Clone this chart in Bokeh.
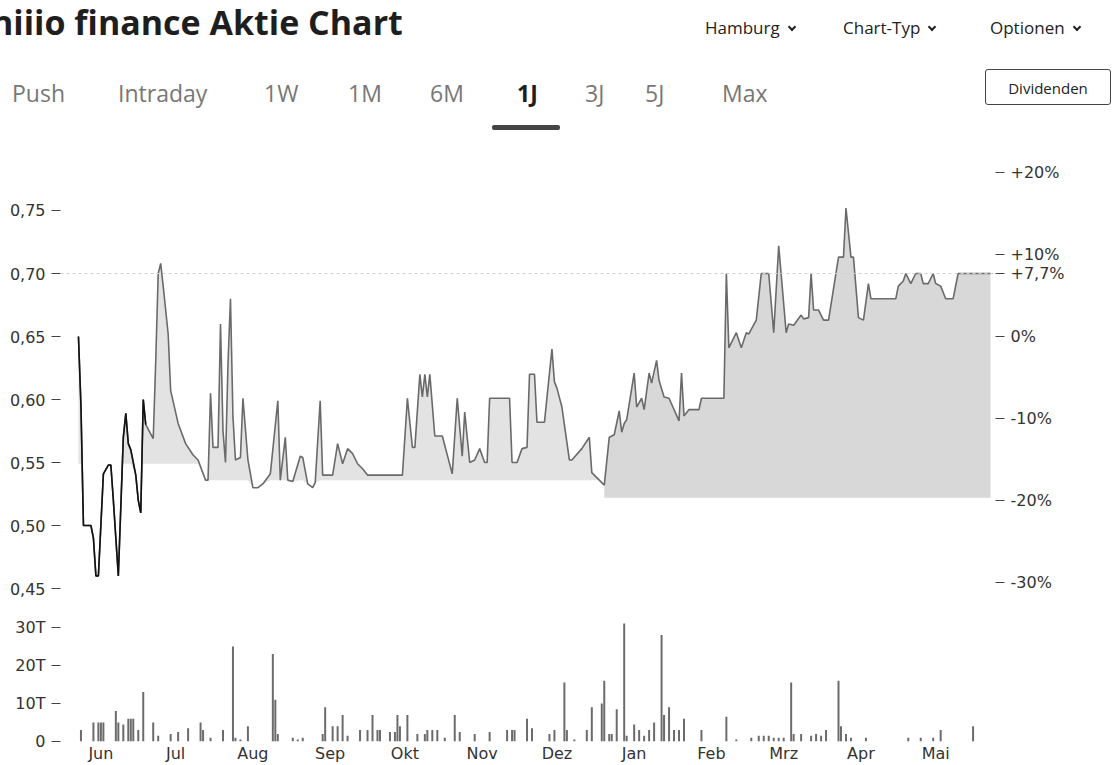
import numpy as np
import pandas as pd
from bokeh.plotting import figure
from bokeh.models import (Range1d, LinearAxis, FixedTicker, CustomJSTickFormatter,
                          MonthsTicker, Span, Div)
from bokeh.layouts import column
from bokeh.embed import file_html
from bokeh.resources import INLINE

TITLE = "niiio finance Aktie Chart"
TABS = ["Push", "Intraday", "1W", "1M", "6M", "1J", "3J", "5J", "Max"]
ACTIVE_TAB = "1J"
MENUS = ["Hamburg", "Chart-Typ", "Optionen"]
BUTTON = "Dividenden"

PRICE_DATES = [
    "2023-05-23", "2023-05-24", "2023-05-25", "2023-05-28", "2023-05-29", "2023-05-30",
    "2023-05-31", "2023-06-02", "2023-06-04", "2023-06-05", "2023-06-06", "2023-06-08",
    "2023-06-10", "2023-06-11", "2023-06-12", "2023-06-13", "2023-06-15", "2023-06-16",
    "2023-06-17", "2023-06-18", "2023-06-19", "2023-06-22", "2023-06-23", "2023-06-24",
    "2023-06-25", "2023-06-26", "2023-06-28", "2023-06-29", "2023-07-02", "2023-07-05",
    "2023-07-08", "2023-07-10", "2023-07-13", "2023-07-14", "2023-07-15", "2023-07-16",
    "2023-07-18", "2023-07-19", "2023-07-20", "2023-07-21", "2023-07-22", "2023-07-23",
    "2023-07-24", "2023-07-25", "2023-07-27", "2023-07-28", "2023-07-30", "2023-08-01",
    "2023-08-03", "2023-08-05", "2023-08-08", "2023-08-11", "2023-08-12", "2023-08-14",
    "2023-08-15", "2023-08-17", "2023-08-20", "2023-08-21", "2023-08-23", "2023-08-25",
    "2023-08-26", "2023-08-28", "2023-08-29", "2023-09-02", "2023-09-04", "2023-09-06",
    "2023-09-08", "2023-09-10", "2023-09-12", "2023-09-14", "2023-09-16", "2023-09-30",
    "2023-10-02", "2023-10-04", "2023-10-05", "2023-10-07", "2023-10-08", "2023-10-09",
    "2023-10-10", "2023-10-11", "2023-10-13", "2023-10-16", "2023-10-20", "2023-10-22",
    "2023-10-24", "2023-10-25", "2023-10-27", "2023-10-29", "2023-10-31", "2023-11-02",
    "2023-11-03", "2023-11-04", "2023-11-12", "2023-11-13", "2023-11-15", "2023-11-17",
    "2023-11-19", "2023-11-20", "2023-11-22", "2023-11-23", "2023-11-26", "2023-11-29",
    "2023-11-30", "2023-12-01", "2023-12-03", "2023-12-06", "2023-12-07", "2023-12-11",
    "2023-12-14", "2023-12-15", "2023-12-18", "2023-12-20", "2023-12-22", "2023-12-24",
    "2023-12-26", "2023-12-27", "2023-12-28", "2023-12-29", "2024-01-01", "2024-01-02",
    "2024-01-04", "2024-01-05", "2024-01-07", "2024-01-08", "2024-01-10", "2024-01-11",
    "2024-01-13", "2024-01-15", "2024-01-19", "2024-01-20", "2024-01-21", "2024-01-23",
    "2024-01-27", "2024-01-28", "2024-02-06", "2024-02-07", "2024-02-08", "2024-02-11",
    "2024-02-13", "2024-02-15", "2024-02-16", "2024-02-19", "2024-02-21", "2024-02-24",
    "2024-02-26", "2024-02-28", "2024-03-02", "2024-03-03", "2024-03-05", "2024-03-08",
    "2024-03-09", "2024-03-11", "2024-03-12", "2024-03-13", "2024-03-15", "2024-03-17",
    "2024-03-19", "2024-03-23", "2024-03-25", "2024-03-26", "2024-03-28", "2024-03-29",
    "2024-03-31", "2024-04-02", "2024-04-04", "2024-04-05", "2024-04-15", "2024-04-16",
    "2024-04-18", "2024-04-19", "2024-04-21", "2024-04-23", "2024-04-25", "2024-04-26",
    "2024-04-28", "2024-04-30", "2024-05-01", "2024-05-03", "2024-05-05", "2024-05-08",
    "2024-05-10", "2024-05-23",
]
PRICE_VALUES = [
    0.650, 0.595, 0.500, 0.500, 0.490, 0.460,
    0.460, 0.541, 0.548, 0.548, 0.520, 0.460,
    0.570, 0.589, 0.565, 0.560, 0.540, 0.520,
    0.510, 0.600, 0.580, 0.569, 0.630, 0.700,
    0.708, 0.690, 0.652, 0.607, 0.581, 0.565,
    0.556, 0.552, 0.536, 0.536, 0.605, 0.562,
    0.562, 0.660, 0.575, 0.550, 0.628, 0.680,
    0.586, 0.552, 0.554, 0.601, 0.552, 0.530,
    0.530, 0.533, 0.541, 0.599, 0.536, 0.570,
    0.536, 0.535, 0.555, 0.554, 0.533, 0.530,
    0.534, 0.599, 0.540, 0.540, 0.565, 0.549,
    0.561, 0.557, 0.549, 0.545, 0.540, 0.540,
    0.601, 0.562, 0.562, 0.620, 0.602, 0.620,
    0.602, 0.620, 0.571, 0.571, 0.541, 0.601,
    0.555, 0.590, 0.550, 0.552, 0.561, 0.550,
    0.550, 0.601, 0.601, 0.550, 0.550, 0.561,
    0.562, 0.620, 0.620, 0.582, 0.582, 0.640,
    0.614, 0.609, 0.594, 0.552, 0.552, 0.561,
    0.570, 0.542, 0.536, 0.532, 0.570, 0.572,
    0.591, 0.574, 0.581, 0.584, 0.621, 0.594,
    0.601, 0.592, 0.621, 0.613, 0.631, 0.615,
    0.602, 0.601, 0.583, 0.621, 0.587, 0.592,
    0.592, 0.601, 0.601, 0.700, 0.641, 0.653,
    0.641, 0.653, 0.652, 0.663, 0.700, 0.700,
    0.653, 0.722, 0.653, 0.660, 0.659, 0.667,
    0.664, 0.665, 0.700, 0.671, 0.671, 0.663,
    0.663, 0.713, 0.713, 0.752, 0.713, 0.713,
    0.665, 0.663, 0.692, 0.680, 0.680, 0.690,
    0.694, 0.700, 0.692, 0.700, 0.700, 0.692,
    0.692, 0.700, 0.692, 0.690, 0.680, 0.680,
    0.700, 0.700,
]

VOLUME_DATES = [
    "2023-05-24", "2023-05-29", "2023-05-31", "2023-06-01", "2023-06-02", "2023-06-07",
    "2023-06-08", "2023-06-10", "2023-06-12", "2023-06-13", "2023-06-14", "2023-06-16",
    "2023-06-18", "2023-06-22", "2023-06-24", "2023-06-29", "2023-07-02", "2023-07-06",
    "2023-07-11", "2023-07-12", "2023-07-15", "2023-07-20", "2023-07-24", "2023-07-25",
    "2023-07-27", "2023-07-30", "2023-08-09", "2023-08-10", "2023-08-11", "2023-08-17",
    "2023-08-19", "2023-08-21", "2023-08-29", "2023-08-30", "2023-09-02", "2023-09-04",
    "2023-09-06", "2023-09-08", "2023-09-13", "2023-09-16", "2023-09-18", "2023-09-20",
    "2023-09-21", "2023-09-25", "2023-09-27", "2023-09-28", "2023-09-29", "2023-10-02",
    "2023-10-06", "2023-10-09", "2023-10-10", "2023-10-12", "2023-10-14", "2023-10-17",
    "2023-10-21", "2023-10-23", "2023-10-29", "2023-11-04", "2023-11-11", "2023-11-13",
    "2023-11-14", "2023-11-19", "2023-11-21", "2023-11-28", "2023-11-30", "2023-12-04",
    "2023-12-05", "2023-12-08", "2023-12-13", "2023-12-15", "2023-12-19", "2023-12-20",
    "2023-12-22", "2023-12-23", "2023-12-25", "2023-12-28", "2023-12-29", "2024-01-01",
    "2024-01-03", "2024-01-05", "2024-01-07", "2024-01-09", "2024-01-12", "2024-01-13",
    "2024-01-15", "2024-01-17", "2024-01-19", "2024-01-21", "2024-01-28", "2024-02-07",
    "2024-02-11", "2024-02-17", "2024-02-20", "2024-02-22", "2024-02-24", "2024-02-26",
    "2024-02-28", "2024-03-01", "2024-03-04", "2024-03-05", "2024-03-08", "2024-03-12",
    "2024-03-14", "2024-03-16", "2024-03-18", "2024-03-23", "2024-03-24", "2024-03-26",
    "2024-03-28", "2024-04-03", "2024-04-20", "2024-04-25", "2024-04-30", "2024-05-03",
    "2024-05-16",
]
VOLUME_VALUES = [
    3000, 5000, 5000, 5000, 5000, 8000,
    5000, 4500, 6000, 6000, 6000, 3000,
    13000, 5000, 1500, 2000, 2500, 3500,
    5000, 3000, 1000, 3000, 25000, 1000,
    500, 4000, 23000, 11000, 2000, 1000,
    500, 1000, 2000, 9000, 4000, 4000,
    7000, 1500, 3000, 3000, 7000, 3000,
    3000, 2500, 2500, 7000, 4000, 7000,
    2000, 2000, 3000, 3000, 3000, 1000,
    7000, 2500, 2000, 2500, 3000, 3000,
    3000, 6000, 3500, 2000, 3000, 15500,
    3000, 500, 3000, 9000, 10000, 16000,
    2000, 2000, 8500, 31000, 1500, 4500,
    3000, 1500, 3000, 5000, 28000, 7000,
    9000, 3000, 3000, 6000, 3000, 6500,
    500, 1000, 1500, 1500, 1500, 1000,
    1000, 1000, 15500, 2000, 2000, 1500,
    2000, 1500, 3000, 16000, 4000, 2000,
    1000, 1000, 1000, 1000, 1000, 3000,
    4000,
]

PRICE_TICKS = [0.45, 0.50, 0.55, 0.60, 0.65, 0.70, 0.75]
PCT_TICKS = [-30, -20, -10, 0, 10, 20]
VOLUME_TICKS = [0, 10000, 20000, 30000]
MONTH_LABELS = ["Jan", "Feb", "Mrz", "Apr", "Mai", "Jun", "Jul", "Aug", "Sep", "Okt", "Nov", "Dez"]

# shading levels under the price line (segment start date, floor level)
FILL_SEGMENTS = [("2023-05-23", 0.549), ("2023-07-13", 0.536), ("2023-12-20", 0.522)]

FONT = "Open Sans"
AXIS_FONT = "DejaVu Sans"

pdates = pd.to_datetime(PRICE_DATES)
prices = np.array(PRICE_VALUES)
vdates = pd.to_datetime(VOLUME_DATES)
base_price = PRICE_VALUES[0]
last_pct = (PRICE_VALUES[-1] / base_price - 1) * 100

x_range = Range1d(pd.Timestamp("2023-05-15 19:00"), pd.Timestamp("2024-05-25 00:00"))
y_lo, y_hi = 0.44048, 0.79365

p = figure(width=1115, height=455, x_axis_type="datetime", x_range=x_range,
           y_range=Range1d(y_lo, y_hi), x_axis_location=None,
           toolbar_location=None, output_backend="svg",
           min_border_left=60, min_border_right=120, min_border_top=5, min_border_bottom=5,
           outline_line_color=None, background_fill_color="white", border_fill_color="white",
           margin=(0, 0, 0, 0))
p.grid.visible = False

seg_starts = [pd.Timestamp(s) for s, _ in FILL_SEGMENTS]
for i, (s, lvl) in enumerate(FILL_SEGMENTS):
    start = seg_starts[i]
    end = seg_starts[i + 1] if i + 1 < len(FILL_SEGMENTS) else pdates[-1]
    m = (pdates >= start) & (pdates <= end)
    xs = pdates[m]
    ys = prices[m]
    color = "#e3e3e3" if i < 2 else "#d8d8d8"
    p.varea(x=xs, y1=np.minimum(ys, lvl), y2=ys, fill_color=color, fill_alpha=1.0)

p.add_layout(Span(location=PRICE_VALUES[-1], dimension="width", line_color="#cfcfcf",
                  line_dash="3 3", line_width=1))

p.line(pdates, prices, line_color="#6a6a6a", line_width=1.6)
first = pdates <= pd.Timestamp("2023-06-19")
p.line(pdates[first], prices[first], line_color="#111111", line_width=1.6)

ya = p.yaxis[0]
ya.ticker = FixedTicker(ticks=PRICE_TICKS)
ya.formatter = CustomJSTickFormatter(code="return tick.toFixed(2).replace('.', ',');")

p.extra_y_ranges = {"pct": Range1d((y_lo / base_price - 1) * 100, (y_hi / base_price - 1) * 100)}
ra = LinearAxis(y_range_name="pct", ticker=FixedTicker(ticks=PCT_TICKS + [last_pct]),
                formatter=CustomJSTickFormatter(code="""
const v = Math.round(tick * 10) / 10;
let s = Math.abs(v - Math.round(v)) < 1e-6 ? String(Math.round(v)) : v.toFixed(1).replace('.', ',');
return (v > 0 ? '+' : '') + s + '%';
"""))
p.add_layout(ra, "right")

for ax in (ya, ra):
    ax.axis_line_color = None
    ax.major_tick_in = 0
    ax.major_tick_out = 9
    ax.major_tick_line_color = "#444444"
    ax.minor_tick_line_color = None
    ax.major_label_standoff = 6
    ax.major_label_text_font = AXIS_FONT
    ax.major_label_text_font_size = "16px"
    ax.major_label_text_color = "#333333"

v = figure(width=1115, height=160, x_axis_type="datetime", x_range=x_range,
           y_range=Range1d(0, 33130), toolbar_location=None, output_backend="svg",
           min_border_left=60, min_border_right=120, min_border_top=10, min_border_bottom=0,
           outline_line_color=None, background_fill_color="white", border_fill_color="white",
           margin=(0, 0, 0, 0))
v.grid.visible = False
v.vbar(x=vdates, top=VOLUME_VALUES, width=0.8 * 86400000, fill_color="#6b6b6b",
       line_color=None)

vx = v.xaxis[0]
vx.ticker = MonthsTicker(months=list(range(12)))
vx.formatter = CustomJSTickFormatter(args=dict(labels=MONTH_LABELS),
                                     code="return labels[new Date(tick).getUTCMonth()];")
vx.axis_line_color = None
vx.major_tick_out = 0
vx.major_tick_in = 0
vx.minor_tick_line_color = None
vx.major_label_standoff = 2
vx.major_label_text_font = AXIS_FONT
vx.major_label_text_font_size = "16px"
vx.major_label_text_color = "#333333"

vy = v.yaxis[0]
vy.ticker = FixedTicker(ticks=VOLUME_TICKS)
vy.formatter = CustomJSTickFormatter(code="return tick == 0 ? '0' : (tick / 1000) + 'T';")
vy.axis_line_color = None
vy.major_tick_in = 0
vy.major_tick_out = 9
vy.major_tick_line_color = "#444444"
vy.minor_tick_line_color = None
vy.major_label_standoff = 6
vy.major_label_text_font = AXIS_FONT
vy.major_label_text_font_size = "16px"
vy.major_label_text_color = "#333333"

tab_left = [12, 118, 264, 348, 430, 517, 585, 645, 722]
menu_left = [705, 843, 990]
parts = [f"<div style=\"position:relative;width:1115px;height:150px;overflow:hidden;"
         f"font-family:'{FONT}',sans-serif;color:#222;background:white;\">"]
parts.append(f"<div style=\"position:absolute;left:-9px;top:5px;font-size:34px;font-weight:700;"
             f"line-height:34px;white-space:nowrap;color:#1e1e1e;\">{TITLE}</div>")
chev = ("<span style=\"display:inline-block;width:6px;height:6px;border-right:2.5px solid #222;"
        "border-bottom:2.5px solid #222;transform:rotate(45deg);margin-left:9px;"
        "position:relative;top:-4px;\"></span>")
for name, lx in zip(MENUS, menu_left):
    parts.append(f"<div style=\"position:absolute;left:{lx}px;top:19px;font-size:17px;"
                 f"line-height:17px;white-space:nowrap;color:#222;\">{name}{chev}</div>")
for name, lx in zip(TABS, tab_left):
    active = name == ACTIVE_TAB
    col = "#1e1e1e" if active else "#777"
    fw = 700 if active else 400
    parts.append(f"<div style=\"position:absolute;left:{lx}px;top:81px;font-size:23px;"
                 f"line-height:24px;font-weight:{fw};white-space:nowrap;color:{col};\">{name}</div>")
parts.append("<div style=\"position:absolute;left:492px;top:125px;width:68px;height:5px;"
             "background:#444;border-radius:2px;\"></div>")
parts.append(f"<div style=\"position:absolute;left:985px;top:69px;width:126px;height:36px;"
             f"border:1px solid #444;border-radius:3px;font-size:15px;line-height:36px;"
             f"text-align:center;color:#222;\">{BUTTON}</div>")
parts.append("</div>")
header = Div(text="".join(parts), width=1115, height=150, margin=(0, 0, 0, 0))

layout = column(header, p, v, spacing=0, margin=(0, 0, 0, 0))
open("out.html", "w").write(file_html(layout, INLINE))
